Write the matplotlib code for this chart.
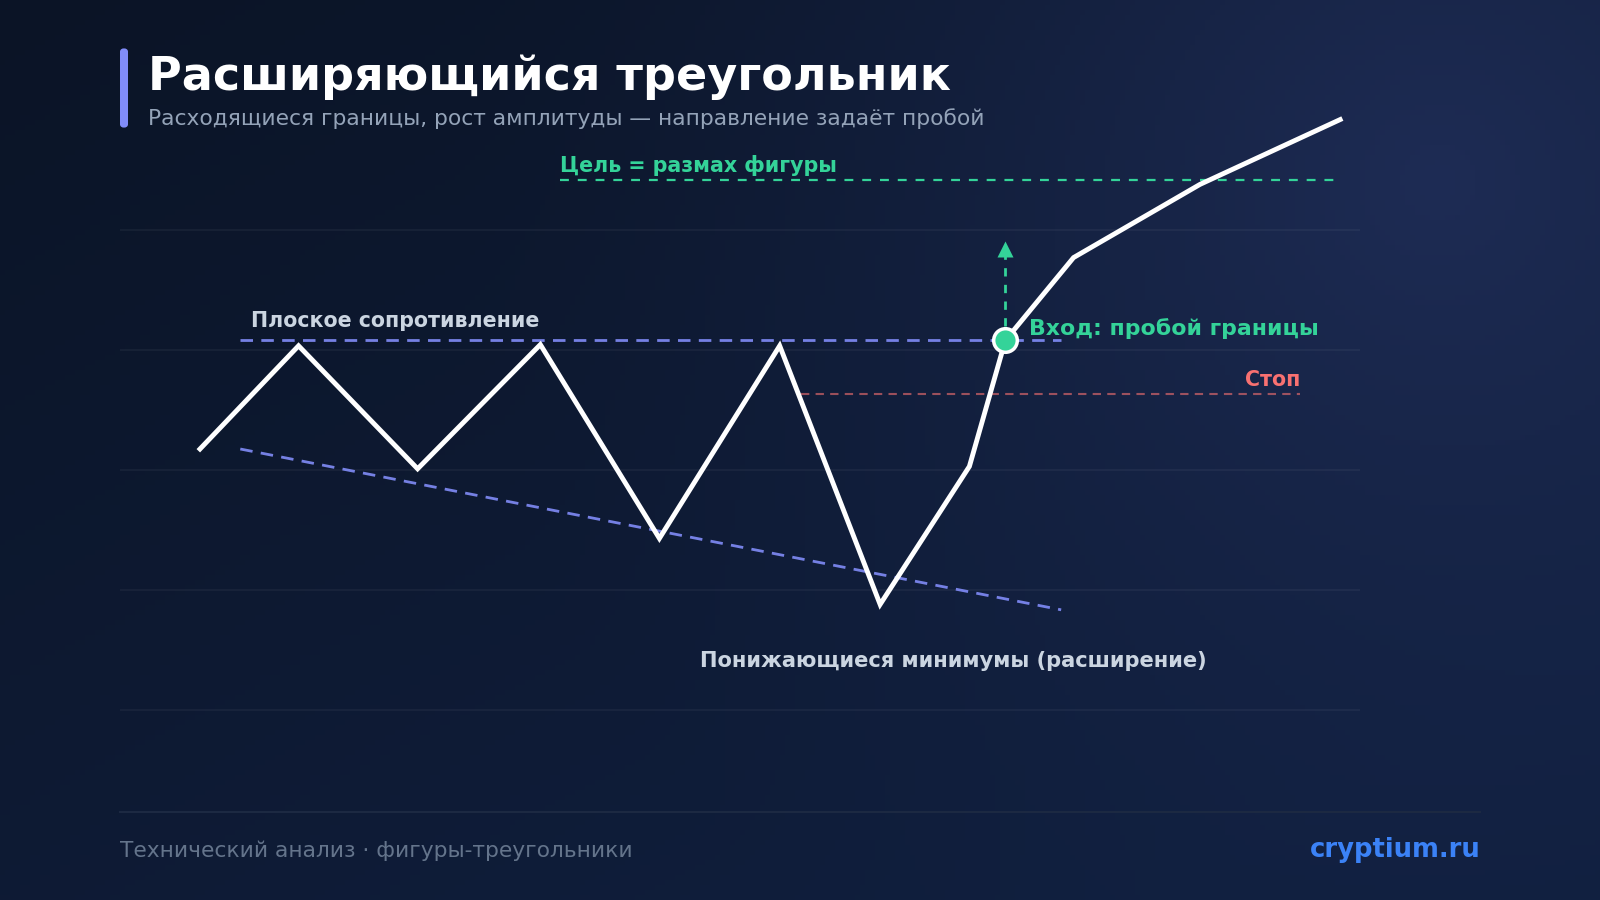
import numpy as np
import matplotlib.pyplot as plt
from matplotlib.patches import FancyBboxPatch

plt.rcParams['font.family'] = ['DejaVu Sans']

# price path (x = bar time, y = price)
price_x = [6.45, 14.4, 24.0, 33.9, 43.5, 53.2, 61.3, 68.5, 71.4, 76.9, 87.1, 98.4]
price_y = [121.75, 130.35, 120.1, 130.45, 114.3, 130.35, 108.8, 120.3, 130.8, 137.7, 143.8, 149.2]

resist_x = [9.7, 75.9]
resist_y = [130.8, 130.8]
support_x = [9.7, 75.9]
support_y = [121.75, 108.35]
target_x = [35.5, 98.4]
target_y = [144.2, 144.2]
stop_x = [54.9, 95.2]
stop_y = [126.3, 126.3]
entry = (71.4, 130.8)
arrow_top = 138.8
grid_levels = [100, 110, 120, 130, 140]

title = 'Расширяющийся треугольник'
subtitle = 'Расходящиеся границы, рост амплитуды — направление задаёт пробой'
footer = 'Технический анализ · фигуры-треугольники'
brand = 'cryptium.ru'

GREEN = '#34d399'
INDIGO = '#818cf8'
RED = '#f87171'
LABEL = '#cbd5e1'

fig = plt.figure(figsize=(16, 9), dpi=100)

# background gradient with a glow in the top right
bg = fig.add_axes([0, 0, 1, 1])
h, w = 180, 320
yy, xx = np.mgrid[0:h, 0:w]
u = xx / (w - 1)
v = yy / (h - 1)
c0 = np.array([0x0b, 0x14, 0x26]) / 255
c1 = np.array([0x10, 0x1f, 0x3e]) / 255
t = np.clip(0.55 * u + 0.6 * v, 0, 1)[..., None]
img = c0 * (1 - t) + c1 * t
glow = np.array([0x1e, 0x2c, 0x55]) / 255
d = np.sqrt(((u - 0.9) * 1.78) ** 2 + (v - 0.2) ** 2)
g = np.clip(1 - d / 1.1, 0, 1)[..., None] ** 1.6
img = img * (1 - g) + glow * g
bg.imshow(img, aspect='auto', extent=[0, 1, 0, 1], origin='upper')
bg.set_xlim(0, 1)
bg.set_ylim(0, 1)
bg.axis('off')

# title block
bg.add_patch(FancyBboxPatch((120 / 1600, 1 - 128 / 900), 8 / 1600, 80 / 900,
                            boxstyle='round,pad=0,rounding_size=0.004',
                            fc=INDIGO, ec='none'))
bg.text(148 / 1600, 1 - 77 / 900, title, color='white', fontsize=33.1,
        fontweight='bold', va='center', ha='left')
bg.text(148 / 1600, 1 - 119 / 900, subtitle, color='#94a3b8', fontsize=15.7,
        va='center', ha='left')

# footer
bg.plot([120 / 1600, 1480 / 1600], [1 - 812 / 900] * 2, color='#1c2942', lw=1.5)
bg.text(120 / 1600, 1 - 851 / 900, footer, color='#64748b', fontsize=15.7,
        va='center', ha='left')
bg.text(1481 / 1600, 1 - 850 / 900, brand, color='#3b82f6', fontsize=18.6,
        fontweight='bold', va='center', ha='right')

# chart area
ax = fig.add_axes([120 / 1600, 1 - 780 / 900, 1240 / 1600, 680 / 900])
ax.set_xlim(0, 100)
ax.set_ylim(94.17, 150.83)
ax.patch.set_alpha(0)
ax.axis('off')

for lv in grid_levels:
    ax.axhline(lv, color='white', alpha=0.045, lw=1.5, zorder=1)

ax.plot(target_x, target_y, color=GREEN, lw=1.6, ls=(0, (4, 4)), zorder=2)
ax.text(target_x[0], 145.4, 'Цель = размах фигуры', color=GREEN, fontsize=14.9,
        fontweight='bold', ha='left', va='center')

ax.plot(resist_x, resist_y, color=INDIGO, alpha=0.9, lw=2, ls=(0, (4.5, 3)),
        zorder=2)
ax.text(10.6, 132.4, 'Плоское сопротивление', color=LABEL, fontsize=14.8,
        fontweight='bold', ha='left', va='center')

ax.plot(support_x, support_y, color=INDIGO, alpha=0.9, lw=2, ls=(0, (4.5, 3)),
        zorder=2)
ax.text(67.2, 104.1, 'Понижающиеся минимумы (расширение)', color=LABEL,
        fontsize=15.1, fontweight='bold', ha='center', va='center')

ax.plot(stop_x, stop_y, color=RED, alpha=0.6, lw=1.5, ls=(0, (4, 3)), zorder=2)
ax.text(stop_x[1], 127.5, 'Стоп', color=RED, fontsize=14.8,
        fontweight='bold', ha='right', va='center')

# breakout arrow
ax.plot([entry[0], entry[0]], [entry[1] + 1.2, arrow_top - 0.8], color=GREEN,
        lw=2, ls=(0, (3, 3)), zorder=3)
ax.plot(entry[0], arrow_top - 0.4, marker='^', ms=11, color=GREEN, mec='none',
        zorder=3)

ax.plot(price_x, price_y, color='white', lw=3.5, solid_joinstyle='miter',
        zorder=4)
ax.plot(*entry, marker='o', ms=17, mfc=GREEN, mec='white', mew=2.5, zorder=5)
ax.text(73.3, 131.8, 'Вход: пробой границы', color=GREEN, fontsize=15.8,
        fontweight='bold', ha='left', va='center')

fig.savefig('out.png', dpi=100)
